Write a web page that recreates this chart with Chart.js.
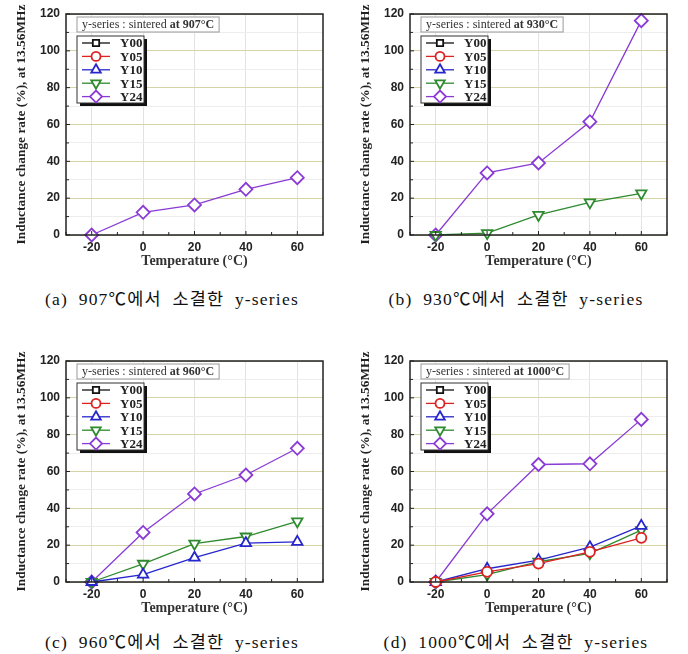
<!DOCTYPE html>
<html>
<head>
<meta charset="utf-8">
<script src="https://cdn.jsdelivr.net/npm/chart.js@4.4.0/dist/chart.umd.min.js"></script>
<style>
  body { margin: 0; background: #fff; }
  #wrap { position: relative; width: 688px; height: 654px; overflow: hidden; }
  canvas { position: absolute; }
  .cap { position: absolute; width: 344px; text-align: center; font-family: "Liberation Serif", "Noto Sans CJK KR", serif; font-size: 17.5px; letter-spacing: 1.2px; word-spacing: 5px; color: #111; }
</style>
</head>
<body>
<div id="wrap">
  <canvas id="c907" width="344" height="280" style="left:0;top:0"></canvas>
  <canvas id="c930" width="344" height="280" style="left:344px;top:0"></canvas>
  <canvas id="c960" width="344" height="280" style="left:0;top:347px"></canvas>
  <canvas id="c1000" width="344" height="280" style="left:344px;top:347px"></canvas>
  <div class="cap" style="left:0;top:285px">(a) 907℃에서 소결한 y-series</div>
  <div class="cap" style="left:344px;top:285px">(b) 930℃에서 소결한 y-series</div>
  <div class="cap" style="left:0;top:628px">(c) 960℃에서 소결한 y-series</div>
  <div class="cap" style="left:344px;top:628px">(d) 1000℃에서 소결한 y-series</div>
</div>
<script>
// temperatures (x) and series values
const temps = [-20, 0, 20, 40, 60];
const seriesNames = ['Y00', 'Y05', 'Y10', 'Y15', 'Y24'];

// sintered at 907 C
const s907_Y24 = [0, 12.3, 16.3, 24.8, 31.1];
// sintered at 930 C
const s930_Y15 = [0, 1, 10.9, 17.7, 22.6];
const s930_Y24 = [0, 33.7, 39.1, 61.5, 116.4];
// sintered at 960 C
const s960_Y10 = [0, 4, 13.2, 21.1, 21.8];
const s960_Y15 = [0, 9.9, 20.8, 24.7, 32.9];
const s960_Y24 = [0, 26.9, 47.8, 58.1, 72.6];
// sintered at 1000 C
const s1000_Y05 = [0, 5.5, 10, 16.4, 24];
const s1000_Y10 = [0, 7.2, 11.9, 18.9, 30.5];
const s1000_Y15 = [0, 4, 11, 15.6, 28.2];
const s1000_Y24 = [0, 37, 63.8, 64.2, 88.3];

const xTickLabels = [-20, 0, 20, 40, 60];
const yTickLabels = [0, 20, 40, 60, 80, 100, 120];

const seriesColors = ['#111111', '#dd2222', '#2626cc', '#2e8a2e', '#8a3ad6'];
const seriesStyles = [
  { pointStyle: 'rect', radius: 5, rotation: 0 },
  { pointStyle: 'circle', radius: 5, rotation: 0 },
  { pointStyle: 'triangle', radius: 6, rotation: 0 },
  { pointStyle: 'triangle', radius: 6, rotation: 180 },
  { pointStyle: 'rectRot', radius: 6.5, rotation: 0 }
];

const serif = '"Liberation Serif", "Times New Roman", serif';
const sans = '"Liberation Sans", Arial, sans-serif';

function toPoints(vals) {
  return vals ? temps.map((t, i) => ({ x: t, y: vals[i] })) : [];
}

function makeDatasets(valuesBySeries) {
  return seriesNames.map((name, i) => ({
    label: name,
    data: toPoints(valuesBySeries[i]),
    borderColor: seriesColors[i],
    borderWidth: 1.3,
    pointStyle: seriesStyles[i].pointStyle,
    pointRadius: seriesStyles[i].radius,
    pointRotation: seriesStyles[i].rotation,
    pointBorderWidth: 1.8,
    pointBorderColor: seriesColors[i],
    pointBackgroundColor: '#ffffff',
    tension: 0,
    clip: false
  }));
}

function drawMarker(ctx, i, x, y) {
  const st = seriesStyles[i];
  ctx.save();
  ctx.strokeStyle = seriesColors[i];
  ctx.fillStyle = '#ffffff';
  ctx.lineWidth = 1.8;
  Chart.helpers.drawPoint(ctx, { pointStyle: st.pointStyle, radius: st.radius - 0.5, rotation: st.rotation, borderWidth: 1.8 }, x, y);
  ctx.restore();
}

// frame, minor ticks, title box and legend box
const decorPlugin = {
  id: 'decor',
  afterDraw(chart) {
    const { ctx, chartArea: ca, scales } = chart;
    const xs = scales.x, ys = scales.y;
    ctx.save();
    // frame
    ctx.strokeStyle = '#222';
    ctx.lineWidth = 1.5;
    ctx.strokeRect(ca.left, ca.top, ca.right - ca.left, ca.bottom - ca.top);
    // inward ticks
    ctx.lineWidth = 1;
    for (let v = -30; v <= 70; v += 10) {
      const px = xs.getPixelForValue(v);
      const len = v % 20 === 0 ? 4 : 3;
      ctx.beginPath();
      ctx.moveTo(px, ca.bottom);
      ctx.lineTo(px, ca.bottom - len);
      ctx.stroke();
    }
    for (let v = 0; v <= 120; v += 10) {
      const py = ys.getPixelForValue(v);
      const len = v % 20 === 0 ? 4 : 3;
      ctx.beginPath();
      ctx.moveTo(ca.left, py);
      ctx.lineTo(ca.left + len, py);
      ctx.stroke();
    }
    // title box
    const opts = chart.options.plugins.decor;
    const tx = ca.left + 11, ty = ca.top + 3;
    ctx.font = '12px ' + serif;
    const part1 = 'y-series : sintered ';
    const w1 = ctx.measureText(part1).width;
    ctx.font = 'bold 12px ' + serif;
    const part2 = 'at ' + opts.temp + '°C';
    const w2 = ctx.measureText(part2).width;
    ctx.fillStyle = '#fff';
    ctx.fillRect(tx, ty, w1 + w2 + 10, 15);
    ctx.strokeStyle = '#999';
    ctx.lineWidth = 1;
    ctx.strokeRect(tx, ty, w1 + w2 + 10, 15);
    ctx.fillStyle = '#333';
    ctx.textBaseline = 'middle';
    ctx.font = '12px ' + serif;
    ctx.fillText(part1, tx + 5, ty + 8);
    ctx.font = 'bold 12px ' + serif;
    ctx.fillText(part2, tx + 5 + w1, ty + 8);
    // legend box
    const lx = ca.left + 11, ly = ca.top + 22, lw = 67, lh = 67;
    ctx.fillStyle = '#111';
    ctx.fillRect(lx + 3, ly + 3, lw, lh);
    ctx.fillStyle = '#fff';
    ctx.fillRect(lx, ly, lw, lh);
    ctx.strokeStyle = '#333';
    ctx.strokeRect(lx, ly, lw, lh);
    seriesNames.forEach((name, i) => {
      const ry = ly + 7 + i * 13.4;
      ctx.strokeStyle = seriesColors[i];
      ctx.lineWidth = 1.3;
      ctx.beginPath();
      ctx.moveTo(lx + 5, ry);
      ctx.lineTo(lx + 33, ry);
      ctx.stroke();
      drawMarker(ctx, i, lx + 19, ry);
      ctx.fillStyle = '#222';
      ctx.font = 'bold 13px ' + serif;
      ctx.textBaseline = 'middle';
      ctx.fillText(name, lx + 43, ry + 1);
    });
    ctx.restore();
  }
};

function makeChart(id, temp, valuesBySeries) {
  const ctx = document.getElementById(id).getContext('2d');
  return new Chart(ctx, {
    type: 'line',
    data: { datasets: makeDatasets(valuesBySeries) },
    options: {
      responsive: false,
      maintainAspectRatio: false,
      animation: false,
      devicePixelRatio: 1,
      layout: { padding: { left: 0, right: 21, top: 14, bottom: 0 } },
      plugins: {
        legend: { display: false },
        tooltip: { enabled: false },
        decor: { temp: temp }
      },
      scales: {
        x: {
          type: 'linear',
          min: -30,
          max: 70,
          afterFit(scale) { scale.height = 45; },
          ticks: {
            stepSize: 10,
            autoSkip: false,
            maxRotation: 0,
            padding: 5,
            color: '#222',
            font: { family: sans, size: 12, weight: 'bold' },
            callback: (v) => xTickLabels.includes(v) ? String(v) : ''
          },
          grid: {
            drawTicks: false,
            color: (c) => (c.tick && c.tick.value % 20 === 0) ? '#e2e2e2' : 'rgba(0,0,0,0)'
          },
          border: { display: false },
          title: {
            display: true,
            text: 'Temperature (°C)',
            color: '#333',
            font: { family: serif, size: 14, weight: 'bold' },
            padding: { top: 2, bottom: 10 }
          }
        },
        y: {
          min: 0,
          max: 120,
          afterFit(scale) { scale.width = 66; },
          ticks: {
            stepSize: 10,
            autoSkip: false,
            padding: 6,
            color: '#222',
            font: { family: sans, size: 12, weight: 'bold' },
            callback: (v) => yTickLabels.includes(v) ? String(v) : ''
          },
          grid: {
            drawTicks: false,
            color: (c) => (c.tick && c.tick.value % 20 === 0) ? '#d4d4a6' : '#ededed'
          },
          border: { display: false },
          title: {
            display: true,
            text: 'Inductance change rate (%), at 13.56MHz',
            color: '#222',
            font: { family: serif, size: 13.4, weight: 'bold' },
            padding: { top: 14, bottom: 0 }
          }
        }
      }
    },
    plugins: [decorPlugin]
  });
}

makeChart('c907', 907, [null, null, null, null, s907_Y24]);
makeChart('c930', 930, [null, null, null, s930_Y15, s930_Y24]);
makeChart('c960', 960, [null, null, s960_Y10, s960_Y15, s960_Y24]);
makeChart('c1000', 1000, [null, s1000_Y05, s1000_Y10, s1000_Y15, s1000_Y24]);
</script>
</body>
</html>
